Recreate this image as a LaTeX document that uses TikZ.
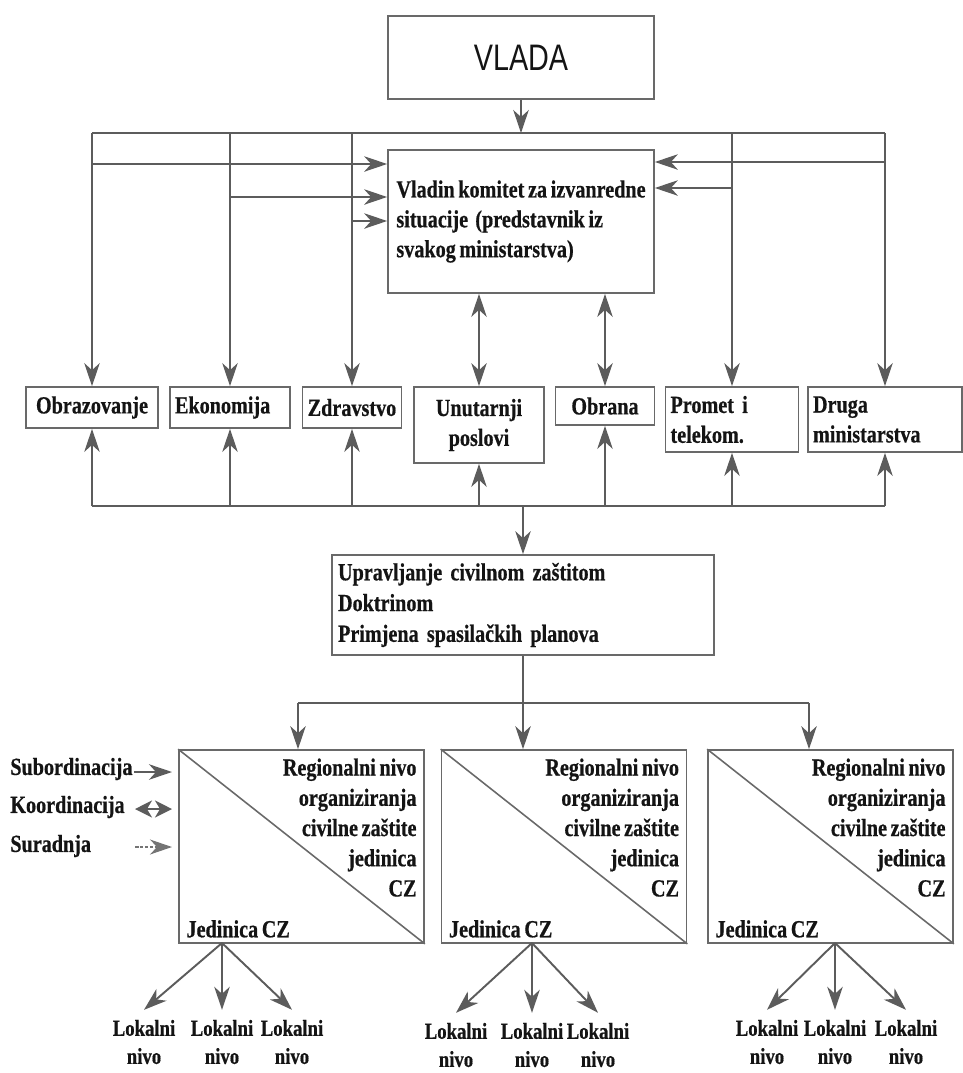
\documentclass[tikz,border=0pt]{standalone}
\usepackage{fontspec}
\setmainfont{Liberation Serif}[FakeStretch=0.82,WordSpace=0.72,BoldFeatures={FakeBold=0.6}]
\newfontfamily\vladafont{Liberation Sans}[FakeStretch=0.78]
\usetikzlibrary{positioning,arrows.meta}
\definecolor{LineGray}{RGB}{92,92,92}
\definecolor{BoxGray}{RGB}{105,105,105}
\definecolor{InkBlack}{RGB}{20,20,20}
\tikzset{
  flow/.style={-{Stealth[length=4.6mm,width=3.1mm,inset=1.4mm]},line width=1.1pt,draw=LineGray},
  dflow/.style={{Stealth[length=4.6mm,width=3.1mm,inset=1.4mm]}-{Stealth[length=4.6mm,width=3.1mm,inset=1.4mm]},
    line width=1.1pt,draw=LineGray},
  legdflow/.style={{Stealth[length=3.4mm,width=3.4mm,inset=1mm]}-{Stealth[length=3.4mm,width=3.4mm,inset=1mm]},
    line width=1.1pt,draw=LineGray},
  thinflow/.style={-{Stealth[length=4.4mm,width=3mm,inset=1.4mm]},line width=0.6pt,draw=LineGray!85,
    dash pattern=on 2pt off 0.8pt},
  bus/.style={line width=1.1pt,draw=LineGray},
  box/.style={draw=BoxGray,line width=1pt,inner sep=0pt,text=InkBlack,
    font=\bfseries\fontsize{14}{17}\selectfont},
  leftbox/.style={box,align=left,inner xsep=0.1cm},
  regbox/.style={draw=BoxGray,line width=1pt,minimum width=4.9cm,minimum height=3.86cm,inner sep=0pt},
  regtxt/.style={align=right,inner xsep=0.16cm,inner ysep=0.18cm,text=InkBlack,
    font=\bfseries\fontsize{14}{17.2}\selectfont},
  loktxt/.style={align=center,inner sep=1pt,text=InkBlack,
    font=\bfseries\fontsize{13}{16}\selectfont},
  legtxt/.style={inner sep=0pt,text=InkBlack,font=\bfseries\fontsize{14}{17}\selectfont}
}

\begin{document}
\hyphenpenalty=10000
\begin{tikzpicture}[x=0.02cm,y=-0.02cm]
  \useasboundingbox (0,0) rectangle (963,1073);

  % top
  \node[box,minimum width=5.32cm,minimum height=1.66cm,
    font=\vladafont\fontsize{21}{24}\selectfont] (vlada) at (521,57.5) {VLADA};
  \node[box,align=left,minimum width=5.32cm,minimum height=2.86cm] (komitet) at (521,221.5)
    {Vladin komitet za izvanredne\\situacije\ \ (predstavnik iz\\svakog ministarstva)};

  % ministries
  \node[box,minimum width=2.64cm,minimum height=0.82cm] (obraz) at (92,407.5) {Obrazovanje};
  \node[leftbox,text width=2.2cm,minimum width=2.4cm,minimum height=0.82cm] (ekon) at (230,407.5) {Ekonomija};
  \node[box,minimum width=1.98cm,minimum height=0.82cm] (zdrav) at (352,407.5) {Zdravstvo};
  \node[box,align=center,minimum width=2.6cm,minimum height=1.52cm] (unut) at (479,425) {Unutarnji\\poslovi};
  \node[box,minimum width=1.98cm,minimum height=0.76cm] (obrana) at (605,406) {Obrana};
  \node[leftbox,text width=2.46cm,minimum width=2.66cm,minimum height=1.3cm] (promet) at (732,419.5) {Promet i\\telekom.};
  \node[leftbox,text width=2.88cm,minimum width=3.08cm,minimum height=1.3cm] (druga) at (885,419.5) {Druga\\ministarstva};

  \node[leftbox,text width=7.4cm,minimum width=7.64cm,minimum height=2.0cm,
    font=\bfseries\fontsize{14}{17.5}\selectfont] (uprav) at (523,605)
    {Upravljanje civilnom zaštitom\\Doktrinom\\Primjena spasilačkih planova};

  % government to ministries
  \draw[flow] (vlada.south) -- (vlada.south |- 0,133);
  \draw[bus] (obraz.north |- 0,133) -- (druga.north |- 0,133);
  \foreach \m in {obraz,ekon,zdrav,promet,druga}
    \draw[flow] (\m.north |- 0,133) -- (\m.north);
  \draw[flow] (obraz.north |- 0,164) -- (komitet.west |- 0,164);
  \draw[flow] (ekon.north |- 0,197) -- (komitet.west |- 0,197);
  \draw[flow] (zdrav.north |- 0,221) -- (komitet.west |- 0,221);
  \draw[flow] (druga.north |- 0,162) -- (komitet.east |- 0,162);
  \draw[flow] (promet.north |- 0,188) -- (komitet.east |- 0,188);
  \draw[dflow] (komitet.south -| unut.north) -- (unut.north);
  \draw[dflow] (komitet.south -| obrana.north) -- (obrana.north);

  % ministries to civil protection
  \draw[bus] (obraz.south |- 0,506) -- (druga.south |- 0,506);
  \foreach \m in {obraz,ekon,zdrav,unut,obrana,promet,druga}
    \draw[flow] (\m.south |- 0,506) -- (\m.south);
  \draw[flow] (uprav.north |- 0,506) -- (uprav.north);

  % regional level
  \foreach \n/\cx in {1/301.5,2/564,3/830.5} {
    \node[regbox] (reg\n) at (\cx,846.5) {};
    \draw[draw=BoxGray,line width=0.9pt] (reg\n.north west) -- (reg\n.south east);
    \node[regtxt,anchor=north east] (regtop\n) at (reg\n.north east)
      {Regionalni nivo\\organiziranja\\civilne zaštite\\jedinica\\CZ};
    \node[regtxt,anchor=south west,inner ysep=0.12cm] (regbot\n) at (reg\n.south west) {Jedinica CZ};
  }
  \coordinate (br1) at (298,703);
  \coordinate (br3) at (809,703);
  \draw[bus] (br1) -- (br3);
  \draw[flow] (br1) -- (br1 |- reg1.north);
  \draw[flow] (br3) -- (br3 |- reg3.north);
  \draw[flow] (uprav.south) -- (uprav.south |- reg2.north);

  % local level
  \coordinate (j1) at (222,943);
  \coordinate (j2) at (532,943);
  \coordinate (j3) at (835,943);
  \foreach \n/\a/\b/\c/\y in {1/144/222/292/1042,2/456/532/598/1045,3/767/835/906/1042} {
    \node[loktxt] (lok\n a) at (\a,\y) {Lokalni\\nivo};
    \node[loktxt] (lok\n b) at (\b,\y) {Lokalni\\nivo};
    \node[loktxt] (lok\n c) at (\c,\y) {Lokalni\\nivo};
    \draw[flow] (j\n) -- ([yshift=0.16cm]lok\n a.north);
    \draw[flow] (j\n) -- ([yshift=0.16cm]lok\n b.north);
    \draw[flow] (j\n) -- ([yshift=0.16cm]lok\n c.north);
  }

  % legend
  \node[legtxt,anchor=west] (subord) at (10,769) {Subordinacija};
  \node[legtxt,anchor=west] (koord) at (10,807) {Koordinacija};
  \node[legtxt,anchor=west] (surad) at (10,846) {Suradnja};
  \coordinate (sub0) at (134,772);
  \coordinate (sub1) at (172,772);
  \coordinate (koo0) at (135,809);
  \coordinate (koo1) at (172,809);
  \coordinate (sur0) at (135,847);
  \coordinate (sur1) at (172,847);
  \draw[flow] (sub0) -- (sub1);
  \draw[legdflow] (koo0) -- (koo1);
  \draw[thinflow] (sur0) -- (sur1);
\end{tikzpicture}
\end{document}
